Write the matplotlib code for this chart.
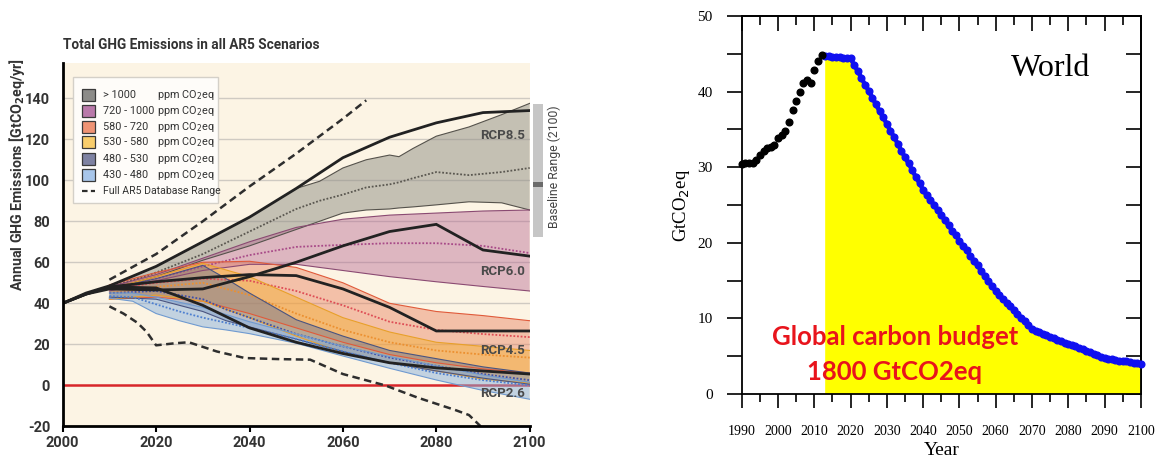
import matplotlib
matplotlib.use("Agg")
import matplotlib.pyplot as plt
from matplotlib.patches import Rectangle
from matplotlib.lines import Line2D
from matplotlib.ticker import MultipleLocator

plt.rcParams["axes.unicode_minus"] = False
NARROW = ["Roboto", "DejaVu Sans"]
SERIF = ["Liberation Serif", "DejaVu Serif"]
CALI = ["Lato", "DejaVu Sans"]

# ------------------------------------------------------------------
# Left panel data (GtCO2eq/yr)
# ------------------------------------------------------------------
rcp_years = [2000, 2005, 2010, 2020, 2030, 2040, 2050, 2060, 2070, 2080, 2090, 2100]
rcp85 = [40, 45, 48.5, 58, 70, 82, 96, 111, 121, 128, 133, 134]
rcp60 = [40, 44.5, 47, 46.5, 47, 53, 60, 68, 75, 78.5, 66, 63]
rcp45 = [40, 44.5, 48, 50.5, 52.5, 54, 53.5, 47, 38, 26.5, 26.5, 26.5]
rcp26 = [40, 44.5, 48, 47.5, 39, 28, 21, 15.5, 11, 8.5, 7, 5.5]
rcp_labels = ["RCP8.5", "RCP6.0", "RCP4.5", "RCP2.6"]
rcp_label_y = [122, 55.5, 17, -4]

gray_years = [2010, 2020, 2030, 2040, 2050, 2055, 2060, 2065, 2070, 2072, 2075, 2080, 2087, 2094, 2100]
gray_upper = [48.5, 58, 70, 82, 96, 99.5, 106, 110, 112.3, 111.5, 115.5, 121.5, 126, 132, 137.5]
gray_lower = [47, 53, 61, 68, 76, 80, 84, 85.5, 86, 86.5, 87, 88, 89.5, 89, 85.5]
gray_median = [48, 55, 64, 75, 86, 90, 93, 96.5, 98, 99, 101, 104, 102.5, 104, 106]

purple_years = [2010, 2020, 2030, 2040, 2050, 2060, 2070, 2080, 2090, 2100]
purple_upper = [48, 54, 62, 70, 77, 81, 83, 84, 85, 85.5]
purple_lower = [46, 51, 56, 59, 59, 56, 53, 50.5, 48.2, 46]
purple_median = [47, 52, 58, 63.5, 67.5, 68.5, 69.3, 69.3, 68, 64.5]

salmon_years = [2010, 2020, 2030, 2040, 2050, 2060, 2070, 2080, 2090, 2100]
salmon_upper = [49, 55, 60, 60.5, 57.5, 50, 40, 36, 34, 31.5]
salmon_lower = [42, 43, 41, 35, 28, 21, 15, 11, 8, 6]
salmon_median = [47, 50, 52, 51, 46, 39, 31, 27, 25, 23.5]

yellow_years = [2010, 2020, 2030, 2040, 2050, 2060, 2070, 2080, 2090, 2100]
yellow_upper = [47, 53, 59.5, 53, 43, 33, 26, 21, 19, 17]
yellow_lower = [42, 44, 41, 33, 24, 16, 11, 7, 3, 1]
yellow_median = [45, 48, 50, 44, 35, 27, 21, 17, 15, 13.5]

dblue_years = [2010, 2020, 2030, 2035, 2040, 2050, 2060, 2070, 2080, 2090, 2100]
dblue_upper = [47, 52, 58.5, 52, 45, 32, 24, 17, 13, 9, 6]
dblue_lower = [43, 42, 36, 31.5, 28.5, 22.5, 16.5, 11, 7, 3.5, 0.5]
dblue_median = [45, 46, 42, 37, 33, 25, 19, 13.5, 9.5, 5.5, 2.5]

lblue_years = [2010, 2015, 2020, 2025, 2030, 2035, 2040, 2050, 2060, 2070, 2080, 2090, 2100]
lblue_upper = [45, 45, 43, 40.5, 38, 34.5, 31, 25, 19, 14, 9.5, 5, 1.5]
lblue_lower = [42.5, 41, 35, 31.5, 28.5, 27, 25.2, 20.5, 14.3, 8.3, 2.6, -2.5, -6.8]
lblue_median = [43.5, 43, 39.5, 36, 33, 30.5, 28, 22.5, 16.5, 11, 6, 2.5, 0]

range_up_years = [2010, 2020, 2030, 2040, 2050, 2060, 2065]
range_up = [51.5, 64, 80, 97, 113, 130, 139]
range_lo_years = [2010, 2013, 2016, 2018, 2020, 2024, 2027, 2033, 2039, 2046, 2053, 2060, 2069, 2076, 2084, 2087, 2089.5]
range_lo = [38.5, 35, 30.5, 26, 19.5, 20.5, 21, 16.5, 13.3, 12.8, 12.5, 5.5, 0, -6, -12, -14.5, -20]

baseline_low, baseline_high, baseline_median = 72.5, 137, 98

legend_ranges = ["> 1000", "720 - 1000", "580 - 720", "530 - 580", "480 - 530", "430 - 480"]
legend_face = ["#8c8b88", "#b979aa", "#ef9374", "#f8cd6c", "#7e82a2", "#a8c6ea"]

# ------------------------------------------------------------------
# Right panel data (GtCO2eq)
# ------------------------------------------------------------------
hist_years = list(range(1990, 2013))
hist_vals = [30.4, 30.6, 30.6, 30.6, 30.95, 31.6, 32.2, 32.6, 32.7, 32.9, 33.8, 34.3,
             34.8, 36.0, 37.6, 38.8, 39.9, 41.1, 41.5, 41.2, 42.9, 44.0, 44.8]
proj_years = list(range(2013, 2101))
proj_vals = [44.7, 44.7, 44.6, 44.6, 44.6, 44.5, 44.5, 44.4,
             43.5, 42.7, 41.8, 40.9, 40.1, 39.2, 38.3, 37.4, 36.6, 35.7,
             34.8, 34.0, 33.1, 32.2, 31.3, 30.5, 29.6, 28.7, 27.9, 27.0,
             26.3, 25.7, 25.0, 24.3, 23.7, 23.0, 22.3, 21.6, 21.0, 20.3,
             19.6, 19.0, 18.3, 17.6, 17.0, 16.3, 15.6, 14.9, 14.3, 13.6,
             13.1, 12.6, 12.1, 11.6, 11.1, 10.6, 10.1, 9.6, 9.1, 8.6,
             8.4, 8.2, 8.0, 7.8, 7.6, 7.4, 7.2, 7.0, 6.8, 6.6,
             6.5, 6.3, 6.1, 5.9, 5.7, 5.5, 5.3, 5.1, 4.9, 4.7,
             4.6, 4.6, 4.5, 4.4, 4.4, 4.3, 4.2, 4.1, 4.1, 4.0]

# ------------------------------------------------------------------
fig = plt.figure(figsize=(11.55, 4.59), dpi=100)
fig.patch.set_facecolor("white")

# ===================== LEFT PANEL =====================
ax = fig.add_axes([0.0543, 0.0712, 0.4043, 0.7907])
ax.set_facecolor("#fcf4e4")
ax.set_xlim(2000, 2100)
ax.set_ylim(-20, 157)

for v in range(20, 141, 20):
    ax.axhline(v, color="#cfcac2", lw=1.0, zorder=1)
ax.axhline(0, color="#d8262a", lw=1.8, zorder=1.5)


def band(years, lo, hi, med, face, alpha, edge, medc):
    ax.fill_between(years, lo, hi, facecolor=face, alpha=alpha, edgecolor="none", zorder=2)
    ax.plot(years, hi, color=edge, lw=0.8, zorder=3)
    ax.plot(years, lo, color=edge, lw=0.8, zorder=3)
    ax.plot(years, med, color=medc, lw=1.3, ls=(0, (1, 1)), zorder=3)


band(gray_years, gray_lower, gray_upper, gray_median, "#8e8d84", 0.50, "#55524c", "#5a5750")
band(purple_years, purple_lower, purple_upper, purple_median, "#b4628f", 0.42, "#8a4a72", "#a84a88")
band(salmon_years, salmon_lower, salmon_upper, salmon_median, "#e87a55", 0.42, "#e05a3a", "#de4d55")
band(yellow_years, yellow_lower, yellow_upper, yellow_median, "#f5b035", 0.48, "#e8a02a", "#ec9030")
band(dblue_years, dblue_lower, dblue_upper, dblue_median, "#5c6c9c", 0.42, "#4a5480", "#4050a8")
band(lblue_years, lblue_lower, lblue_upper, lblue_median, "#8ab2de", 0.50, "#6f9ad0", "#4d7fd0")

dash = (0, (3.0, 1.8))
ax.plot(range_up_years, range_up, color="#2e2e2e", lw=1.8, ls=dash, zorder=5, clip_on=False)
ax.plot(range_lo_years, range_lo, color="#2e2e2e", lw=1.8, ls=dash, zorder=5)

for vals in (rcp85, rcp60, rcp45, rcp26):
    ax.plot(rcp_years, vals, color="#222222", lw=2.0, zorder=6, solid_joinstyle="miter")

for lab, yv in zip(rcp_labels, rcp_label_y):
    ax.text(2099, yv, lab, ha="right", va="center", fontsize=9.5, fontweight="bold",
            color="#4a4a4a", family=NARROW, zorder=8)

# baseline range bar (outside axes)
ax.add_patch(Rectangle((2100.8, baseline_low), 2.1, baseline_high - baseline_low,
                       facecolor="#c6c6c6", edgecolor="none", clip_on=False, zorder=2))
ax.add_patch(Rectangle((2100.8, baseline_median - 1.2), 2.1, 2.4,
                       facecolor="#6a6a6a", edgecolor="none", clip_on=False, zorder=3))
ax.text(2105.3, (baseline_low + baseline_high) / 2 + 2, "Baseline Range (2100)", rotation=90,
        ha="center", va="center", fontsize=8.8, color="#444444", family=NARROW, clip_on=False)

for s in ("top", "right"):
    ax.spines[s].set_visible(False)
for s in ("left", "bottom"):
    ax.spines[s].set_color("black")
    ax.spines[s].set_linewidth(2.0)
    ax.spines[s].set_zorder(10)

ax.set_xticks(range(2000, 2101, 20))
ax.set_yticks(range(-20, 141, 20))
ax.tick_params(axis="x", direction="out", length=4, width=1.5, pad=3)
ax.tick_params(axis="y", length=0, pad=9)
for t in ax.get_xticklabels() + ax.get_yticklabels():
    t.set_family(NARROW)
    t.set_fontweight("bold")
    t.set_fontsize(10.5)
    t.set_color("#333333")

# legend (manual)
ax.add_patch(Rectangle((0.0214, 0.6145), 0.3112, 0.3472, transform=ax.transAxes,
                       facecolor="#fefcf9", edgecolor="#d4d0c8", lw=1, zorder=11))
row_y = [0.9129, 0.8697, 0.8256, 0.7826, 0.7366, 0.6925]
for lab, fc, yy in zip(legend_ranges, legend_face, row_y):
    ax.add_patch(Rectangle((0.0407, yy - 0.0165), 0.0285, 0.033, transform=ax.transAxes,
                           facecolor=fc, edgecolor="#3a3a3a", lw=0.9, zorder=12))
    ax.text(0.0869, yy, lab, transform=ax.transAxes, ha="left", va="center",
            fontsize=7.8, color="#333333", family=NARROW, zorder=12)
    ax.text(0.2026, yy, r"ppm CO$_2$eq", transform=ax.transAxes, ha="left", va="center",
            fontsize=7.8, color="#333333", family=NARROW, zorder=12)
ax.add_line(Line2D([0.0407, 0.0692], [0.6492, 0.6492], transform=ax.transAxes,
                   color="#2e2e2e", lw=1.6, ls=(0, (2.5, 1.5)), zorder=12))
ax.text(0.0869, 0.6492, "Full AR5 Database Range", transform=ax.transAxes, ha="left",
        va="center", fontsize=7.6, color="#333333", family=NARROW, zorder=12)

fig.text(63 / 1155, 1 - 45 / 459, "Total GHG Emissions in all AR5 Scenarios", ha="left",
         va="center", fontsize=9.8, fontweight="bold", color="#333333", family=NARROW)
fig.text(17 / 1155, 1 - 175 / 459, r"Annual GHG Emissions [GtCO$_\mathbf{2}$eq/yr]",
         rotation=90, ha="center", va="center", fontsize=10.2, fontweight="bold",
         color="#333333", family=NARROW)

# ===================== RIGHT PANEL =====================
ax2 = fig.add_axes([0.6422, 0.1416, 0.3455, 0.8235])
ax2.set_xlim(1990, 2100)
ax2.set_ylim(0, 50)

ax2.fill_between(proj_years, 0, proj_vals, facecolor="#ffff00", edgecolor="none", zorder=1)
ax2.plot(proj_years, proj_vals, color="#1010f0", lw=3.2, marker="o", ms=4.8, mec="#1010f0",
         mfc="#1010f0", zorder=3, clip_on=False)
ax2.plot(hist_years, hist_vals, ls="none", color="black", marker="o", ms=4.8, zorder=3,
         clip_on=False)

ax2.text(0.775, 0.862, "World", transform=ax2.transAxes, ha="center", va="center",
         fontsize=23, family=SERIF, color="black")
ax2.text(0.384, 0.151, "Global carbon budget", transform=ax2.transAxes, ha="center",
         va="center", fontsize=18.5, fontweight="bold", color="#e8141c", family=CALI, zorder=4)
ax2.text(0.384, 0.058, "1800 GtCO2eq", transform=ax2.transAxes, ha="center",
         va="center", fontsize=18.5, fontweight="bold", color="#e8141c", family=CALI, zorder=4)

for s in ax2.spines.values():
    s.set_linewidth(1.3)
    s.set_color("black")

ax2.xaxis.set_major_locator(MultipleLocator(10))
ax2.xaxis.set_minor_locator(MultipleLocator(5))
ax2.yaxis.set_major_locator(MultipleLocator(10))
ax2.yaxis.set_minor_locator(MultipleLocator(5))
ax2.tick_params(axis="x", which="major", direction="out", length=10, width=1.2, pad=12,
                labelsize=10, top=False)
ax2.tick_params(axis="x", which="minor", direction="out", length=5.5, width=1.2, top=False)
ax2.tick_params(axis="y", which="both", direction="out", length=11, width=1.2, pad=10,
                labelsize=11, right=False)
for t in ax2.get_xticklabels() + ax2.get_yticklabels():
    t.set_family(SERIF)

top = ax2.secondary_xaxis("top")
top.xaxis.set_major_locator(MultipleLocator(10))
top.xaxis.set_minor_locator(MultipleLocator(5))
top.tick_params(axis="x", which="major", direction="in", length=11, width=1.2, labeltop=False)
top.tick_params(axis="x", which="minor", direction="in", length=6.5, width=1.2)
top.spines["top"].set_linewidth(1.3)

rgt = ax2.secondary_yaxis("right")
rgt.yaxis.set_major_locator(MultipleLocator(10))
rgt.yaxis.set_minor_locator(MultipleLocator(5))
rgt.tick_params(axis="y", which="both", direction="in", length=11, width=1.2, labelright=False)
rgt.spines["right"].set_linewidth(1.3)

ax2.set_xlabel("Year", fontsize=14, family=SERIF, labelpad=3)
ax2.set_ylabel(r"GtCO$_2$eq", fontsize=13.5, family=SERIF, labelpad=4)

fig.savefig("out.png", dpi=100, facecolor="white")
